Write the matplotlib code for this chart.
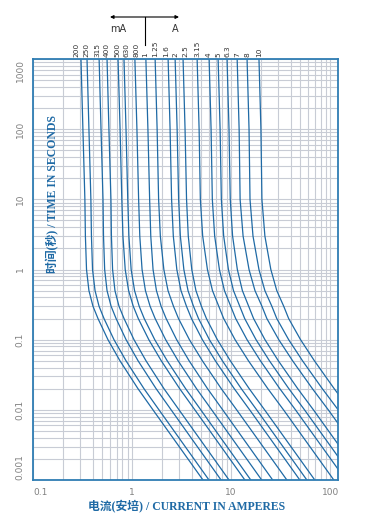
import matplotlib
matplotlib.use('Agg')
import matplotlib.pyplot as plt
from matplotlib.ticker import LogLocator, FixedLocator, NullFormatter

# time points (s) at which the curves were read
times = [1000, 100, 10, 3, 1, 0.5, 0.3, 0.2, 0.1, 0.05, 0.02, 0.01, 0.001]

ratings = ['200', '250', '315', '400', '500', '630', '800', '1', '1.25', '1.6',
           '2', '2.5', '3.15', '4', '5', '6.3', '7', '8', '10']
# where each rating label stands along the current axis (A)
label_pos = [0.272, 0.343, 0.443, 0.558, 0.705, 0.869, 1.097, 1.352, 1.706, 2.22,
             2.76, 3.45, 4.54, 6.0, 7.39, 9.12, 11.5, 14.5, 19.2]

# current (A) of each fuse curve at the times above
i_200m = [0.305, 0.319, 0.334, 0.338, 0.347, 0.367, 0.403, 0.453, 0.571, 0.755, 1.148, 1.626, 5.2]
i_250m = [0.351, 0.367, 0.384, 0.389, 0.399, 0.423, 0.464, 0.521, 0.657, 0.869, 1.32, 1.87, 5.98]
i_315m = [0.465, 0.486, 0.509, 0.515, 0.529, 0.559, 0.614, 0.690, 0.870, 1.15, 1.75, 2.48, 7.92]
i_400m = [0.559, 0.584, 0.612, 0.619, 0.636, 0.672, 0.738, 0.830, 1.046, 1.383, 2.10, 2.98, 9.53]
i_500m = [0.722, 0.757, 0.788, 0.809, 0.853, 0.923, 1.028, 1.156, 1.476, 1.972, 3.027, 4.305, 13.77]
i_630m = [0.829, 0.869, 0.905, 0.929, 0.979, 1.060, 1.180, 1.327, 1.694, 2.264, 3.475, 4.942, 15.81]
i_800m = [1.068, 1.120, 1.165, 1.197, 1.262, 1.365, 1.520, 1.710, 2.183, 2.917, 4.477, 6.367, 20.37]
i_1a = [1.379, 1.446, 1.505, 1.545, 1.629, 1.763, 1.963, 2.208, 2.819, 3.767, 5.782, 8.223, 26.3]
i_1a25 = [1.710, 1.791, 1.854, 1.930, 2.094, 2.307, 2.618, 2.944, 3.793, 5.129, 7.962, 11.38, 36.56]
i_1a6 = [2.312, 2.421, 2.507, 2.609, 2.831, 3.119, 3.540, 3.980, 5.128, 6.934, 10.76, 15.39, 49.43]
i_2a = [2.722, 2.851, 2.952, 3.073, 3.334, 3.673, 4.168, 4.687, 6.038, 8.165, 12.68, 18.12, 58.2]
i_2a5 = [3.273, 3.428, 3.549, 3.694, 4.008, 4.416, 5.011, 5.635, 7.260, 9.817, 15.24, 21.78, 69.98]
i_3a15 = [4.539, 4.753, 4.892, 5.164, 5.768, 6.486, 7.499, 8.414, 10.96, 14.96, 23.50, 33.81, 108.9]
i_4a = [5.996, 6.279, 6.462, 6.823, 7.620, 8.568, 9.906, 11.12, 14.48, 19.76, 31.04, 44.66, 143.9]
i_5a = [7.394, 7.743, 7.969, 8.414, 9.396, 10.57, 12.22, 13.71, 17.85, 24.37, 38.28, 55.08, 177.4]
i_6a3 = [9.096, 9.525, 9.804, 10.35, 11.56, 13.0, 15.03, 16.86, 21.96, 29.98, 47.09, 67.76, 218.2]
i_7a = [11.51, 12.05, 12.33, 13.21, 15.17, 17.42, 20.46, 22.96, 30.27, 41.78, 66.22, 95.72, 309.7]
i_8a = [14.49, 15.17, 15.52, 16.63, 19.1, 21.93, 25.76, 28.91, 38.11, 52.6, 83.37, 120.5, 389.9]
i_10a = [19.11, 20.0, 20.47, 21.93, 25.18, 28.92, 33.96, 38.11, 50.25, 69.35, 109.9, 158.9, 514.1]

curves = [i_200m, i_250m, i_315m, i_400m, i_500m, i_630m, i_800m, i_1a, i_1a25,
          i_1a6, i_2a, i_2a5, i_3a15, i_4a, i_5a, i_6a3, i_7a, i_8a, i_10a]

x_ticks = [0.1, 1, 10, 100]
x_ticklabels = ['0.1', '1', '10', '100']
y_ticks = [0.001, 0.01, 0.1, 1, 10, 100, 1000]
y_ticklabels = ['0.001', '0.01', '0.1', '1', '10', '100', '1000']

blue = '#1f6aa5'
frame = '#2f7db3'
gridc = '#c8ccd5'

fig = plt.figure(figsize=(3.71, 5.27), dpi=100)
ax = fig.add_axes([33 / 371, 47 / 527, 305 / 371, 421 / 527])
ax.set_xscale('log')
ax.set_yscale('log')
ax.set_xlim(0.1, 120)
ax.set_ylim(0.001, 1000)

ax.xaxis.set_major_locator(FixedLocator(x_ticks))
ax.yaxis.set_major_locator(FixedLocator(y_ticks))
ax.xaxis.set_minor_locator(LogLocator(base=10, subs=range(2, 10), numticks=20))
ax.yaxis.set_minor_locator(LogLocator(base=10, subs=range(2, 10), numticks=20))
ax.xaxis.set_minor_formatter(NullFormatter())
ax.yaxis.set_minor_formatter(NullFormatter())
ax.set_xticklabels(x_ticklabels)
ax.set_yticklabels(y_ticklabels, rotation=90, va='center')
ylabs = ax.get_yticklabels()
ylabs[0].set_va('bottom')
ylabs[-1].set_va('top')
ax.get_xticklabels()[0].set_ha('left')
ax.tick_params(which='both', length=0, labelsize=6.5, labelcolor='#808080', pad=6)
ax.grid(which='both', color=gridc, lw=0.8)
ax.set_axisbelow(True)
for s in ax.spines.values():
    s.set_color(frame)
    s.set_linewidth(1.3)

for c in curves:
    ax.plot(c, times, color=blue, lw=0.9)

# rating labels above the curves
trans = ax.get_xaxis_transform()
for p, r in zip(label_pos, ratings):
    ax.text(p, 1.004, r, transform=trans, rotation=90, ha='center', va='bottom',
            fontsize=5.3, color='#333333')

# axis titles
ax.text(0.065, 0.68, '时间(秒) / TIME IN SECONDS', transform=ax.transAxes, rotation=90,
        ha='center', va='center', fontsize=8.5, fontweight='bold', color=blue,
        family=['Liberation Serif', 'Noto Sans CJK SC'])
fig.text(187 / 371, 1 - 507 / 527, '电流(安培) / CURRENT IN AMPERES', ha='center', va='center',
         fontsize=8.5, fontweight='bold', color=blue,
         family=['Liberation Serif', 'Noto Sans CJK SC'])

# mA / A marker
fig.add_artist(plt.Line2D([145 / 371, 145 / 371], [1 - 17 / 527, 1 - 45 / 527],
                          color='black', lw=0.8))
ax.annotate('', xy=(110 / 371, 1 - 17 / 527), xytext=(179 / 371, 1 - 17 / 527),
            xycoords='figure fraction', textcoords='figure fraction',
            arrowprops=dict(arrowstyle='<|-|>', color='black', lw=0.8,
                            mutation_scale=5, shrinkA=0, shrinkB=0))
fig.text(118 / 371, 1 - 29 / 527, 'mA', ha='center', va='center', fontsize=7, color='#333333')
fig.text(175 / 371, 1 - 29 / 527, 'A', ha='center', va='center', fontsize=7, color='#333333')

fig.savefig('out.png', dpi=100, facecolor='white')
